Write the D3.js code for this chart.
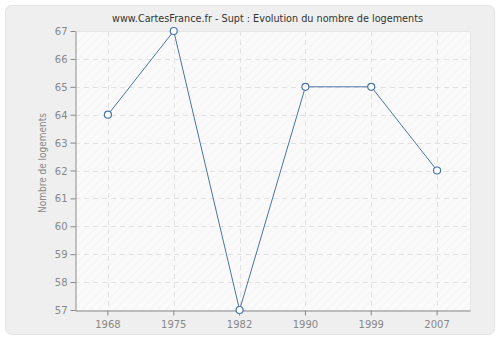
<!DOCTYPE html>
<html><head><meta charset="utf-8">
<script src="https://cdn.jsdelivr.net/npm/d3@7"></script>
<style>html,body{margin:0;padding:0;background:#fff;}svg{display:block;font-family:"DejaVu Sans",sans-serif;}</style>
</head><body>
<svg id="c" width="500" height="340"></svg>
<script>
const years = ["1968","1975","1982","1990","1999","2007"];
const values = [64, 67, 57, 65, 65, 62];
const yTicks = [57,58,59,60,61,62,63,64,65,66,67];
const title = "www.CartesFrance.fr - Supt : Evolution du nombre de logements";
const yTitle = "Nombre de logements";

const svg = d3.select("#c");
const m = {l:75, r:30, t:31, b:30};
const W = 500, H = 340;
const x = d3.scaleBand().domain(years).range([m.l, W - m.r]).padding(0);
const y = d3.scaleLinear().domain([57, 67]).range([H - m.b, m.t]);

const defs = svg.append("defs");
const pat = defs.append("pattern").attr("id","hatch").attr("patternUnits","userSpaceOnUse")
  .attr("width",6).attr("height",6).attr("patternTransform","rotate(45)");
pat.append("rect").attr("width",6).attr("height",6).attr("fill","#fafafa");
pat.append("line").attr("x1",0).attr("y1",0).attr("x2",0).attr("y2",6).attr("stroke","#f0f0f0").attr("stroke-width",1);

svg.append("rect").attr("x",5.5).attr("y",5.5).attr("width",489).attr("height",329).attr("rx",6)
  .attr("fill","#efefef").attr("stroke","#e4e4e4");

svg.append("rect").attr("x",m.l).attr("y",m.t).attr("width",W-m.r-m.l).attr("height",H-m.b-m.t)
  .attr("fill","url(#hatch)");

svg.append("text").attr("x",267.5).attr("y",22).attr("text-anchor","middle")
  .attr("font-size",10.5).attr("fill","#333")
  .attr("textLength",311).attr("lengthAdjust","spacingAndGlyphs").text(title);

// grid
const g = svg.append("g");
g.selectAll(".hg").data(yTicks.slice(1)).join("line")
  .attr("x1",m.l).attr("x2",W-m.r).attr("y1",d=>Math.round(y(d))+0.5).attr("y2",d=>Math.round(y(d))+0.5)
  .attr("stroke","#e2e2e2").attr("stroke-dasharray","5,4");
g.selectAll(".vg").data(years).join("line")
  .attr("x1",d=>Math.round(x(d)+x.bandwidth()/2)+0.5).attr("x2",d=>Math.round(x(d)+x.bandwidth()/2)+0.5)
  .attr("y1",m.t).attr("y2",H-m.b)
  .attr("stroke","#e2e2e2").attr("stroke-dasharray","5,4");
svg.append("line").attr("x1",W-m.r+0.5).attr("x2",W-m.r+0.5).attr("y1",m.t).attr("y2",H-m.b).attr("stroke","#e6e6e6");
svg.append("line").attr("x1",m.l).attr("x2",W-m.r).attr("y1",m.t+0.5).attr("y2",m.t+0.5).attr("stroke","#e6e6e6");

// axes
const ya = svg.append("g").attr("transform",`translate(${m.l+0.5},0)`)
  .call(d3.axisLeft(y).tickValues(yTicks).tickFormat(d3.format("d")).tickSize(5).tickSizeOuter(0));
const xa = svg.append("g").attr("transform",`translate(0,${H-m.b+0.5})`)
  .call(d3.axisBottom(x).tickSize(5).tickSizeOuter(0));
[ya,xa].forEach(a=>{
  a.select(".domain").attr("stroke","#888");
  a.selectAll(".tick line").attr("stroke","#888");
  a.selectAll(".tick text").attr("fill","#888").attr("font-size",10).attr("font-family","DejaVu Sans, sans-serif");
});
ya.selectAll(".tick text").attr("x",-8).attr("dy","0.35em");
xa.selectAll(".tick text").attr("y",10);

svg.append("text").attr("transform",`translate(46,163) rotate(-90)`)
  .attr("text-anchor","middle").attr("font-size",10).attr("fill","#888")
  .attr("textLength",100).attr("lengthAdjust","spacingAndGlyphs").text(yTitle);

const cx = d=>x(d)+x.bandwidth()/2;
const line = d3.line().x((d,i)=>cx(years[i])).y(d=>y(d));
svg.append("path").datum(values).attr("d",line).attr("fill","none").attr("stroke","#4a74a8").attr("stroke-width",1);
svg.selectAll(".pt").data(values).join("circle")
  .attr("cx",(d,i)=>cx(years[i])).attr("cy",d=>y(d)).attr("r",3.5)
  .attr("fill","#fff").attr("stroke","#4a74a8").attr("stroke-width",1.2);
</script>
</body></html>
